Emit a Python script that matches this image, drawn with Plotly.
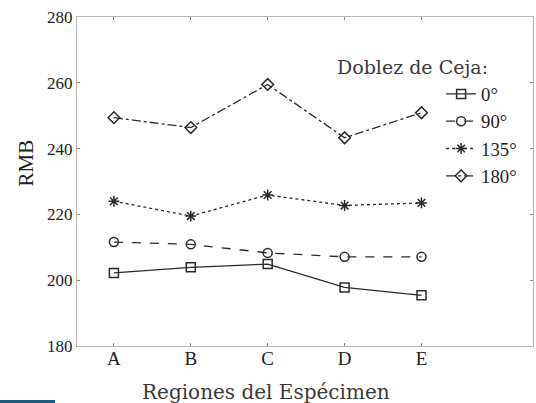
import plotly.graph_objects as go

regions = ["A", "B", "C", "D", "E"]
angles = ["0°", "90°", "135°", "180°"]
rmb_0 = [202.2, 203.9, 204.9, 197.8, 195.4]
rmb_90 = [211.6, 210.9, 208.3, 207.1, 207.1]
rmb_135 = [224.0, 219.5, 225.9, 222.7, 223.5]
rmb_180 = [249.4, 246.4, 259.5, 243.3, 250.9]
y_ticks = [180, 200, 220, 240, 260, 280]

series = [rmb_0, rmb_90, rmb_135, rmb_180]
dashes = ["solid", "dash", "dot", "dashdot"]
symbols = ["square-open", "circle-open", "asterisk-open", "diamond-open"]
col = "#2b2b2b"

fig = go.Figure()
for name, vals, dsh, sym in zip(angles, series, dashes, symbols):
    fig.add_trace(go.Scatter(
        x=regions, y=vals, name=name, mode="lines+markers",
        line=dict(color=col, width=1.3, dash=dsh),
        marker=dict(symbol=sym, size=9, color=col, line=dict(color=col, width=1.5)),
    ))

serif = "'Liberation Serif', 'Times New Roman', serif"
slab = "'DejaVu Serif', serif"
fig.update_layout(
    width=536, height=403,
    margin=dict(l=77, r=3, t=17, b=57, autoexpand=False),
    paper_bgcolor="white", plot_bgcolor="white",
    showlegend=True,
    legend=dict(x=0.7985, y=0.823, xanchor="left", yanchor="top",
                font=dict(family=serif, size=18.7, color="#222"),
                bgcolor="rgba(0,0,0,0)", tracegroupgap=0, itemwidth=30),
    xaxis=dict(type="category", categoryorder="array", categoryarray=regions,
               range=[-0.48, 5.45], showgrid=False, zeroline=False, automargin=False,
               showline=True, linecolor="#b8b8b8", linewidth=1, mirror="ticks",
               ticks="inside", ticklen=3, tickcolor="#888", ticklabelstandoff=-5,
               tickfont=dict(family=serif, size=19, color="#222")),
    yaxis=dict(range=[180, 280], tickvals=y_ticks, showgrid=False, zeroline=False,
               automargin=False,
               showline=True, linecolor="#b8b8b8", linewidth=1, mirror="ticks",
               ticks="inside", ticklen=3, tickcolor="#888",
               tickfont=dict(family=serif, size=17, color="#222")),
    annotations=[
        dict(text="Doblez de Ceja:", xref="paper", yref="paper",
             x=0.566, y=0.848, xanchor="left", yanchor="middle", showarrow=False,
             font=dict(family=slab, size=19, color="#3a3a3a")),
        dict(text="Regiones del Espécimen", xref="paper", yref="paper",
             x=0.415, y=-0.14, xanchor="center", yanchor="middle", showarrow=False,
             font=dict(family=slab, size=20, color="#3a3a3a")),
        dict(text="RMB", xref="paper", yref="paper", textangle=-90,
             x=-0.111, y=0.556, xanchor="center", yanchor="middle", showarrow=False,
             font=dict(family=serif, size=21, color="#222")),
    ],
    shapes=[dict(type="rect", xref="paper", yref="paper",
                 x0=-0.1689, x1=-0.0482, y0=-0.176, y1=-0.164,
                 fillcolor="#1d5a7e", line=dict(width=0))],
)
fig.write_html("out.html", config={"displayModeBar": False},
               post_script="document.body.style.margin='0';document.body.style.overflow='hidden';")
